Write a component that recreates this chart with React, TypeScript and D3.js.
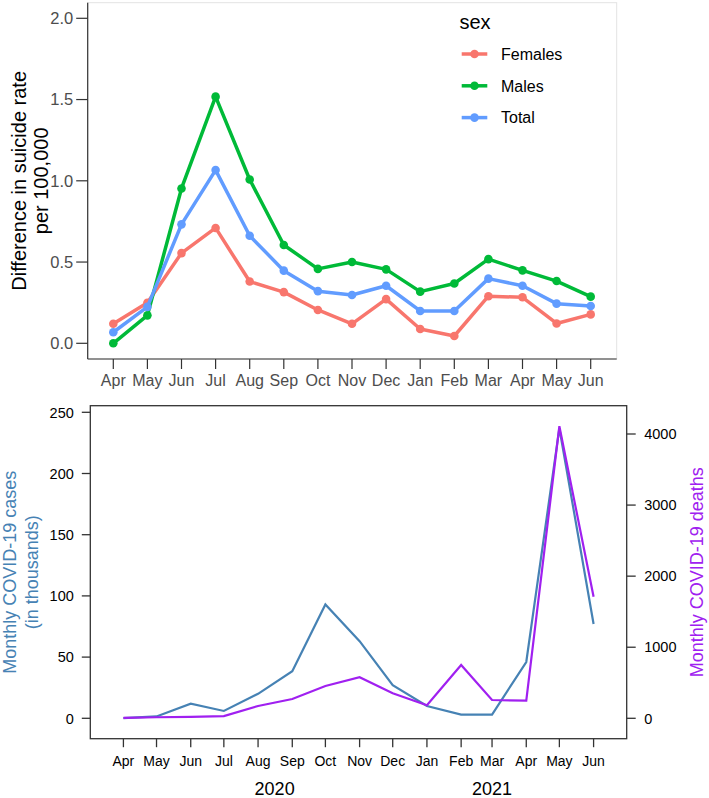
import * as d3 from 'd3'

// top panel: difference in suicide rate per 100,000, Apr 2020 – Jun 2021
const months = ['Apr', 'May', 'Jun', 'Jul', 'Aug', 'Sep', 'Oct', 'Nov', 'Dec', 'Jan', 'Feb', 'Mar', 'Apr', 'May', 'Jun']
const females = [0.12, 0.25, 0.555, 0.71, 0.38, 0.315, 0.205, 0.12, 0.272, 0.088, 0.045, 0.29, 0.283, 0.122, 0.178]
const males = [0.0, 0.172, 0.953, 1.518, 1.008, 0.605, 0.458, 0.5, 0.455, 0.318, 0.368, 0.518, 0.449, 0.383, 0.287]
const total = [0.068, 0.224, 0.732, 1.066, 0.662, 0.447, 0.321, 0.297, 0.354, 0.199, 0.199, 0.398, 0.354, 0.244, 0.23]
const rateTicks = [0, 0.5, 1.0, 1.5, 2.0]

// bottom panel: monthly COVID-19 cases (thousands) and deaths
const covidDates = ['2020-04-01', '2020-05-01', '2020-06-01', '2020-07-01', '2020-08-01', '2020-09-01', '2020-10-01',
  '2020-11-01', '2020-12-01', '2021-01-01', '2021-02-01', '2021-03-01', '2021-04-01', '2021-05-01', '2021-06-01']
const cases = [0.2, 1.5, 12, 6, 20, 38.5, 93, 63, 27, 10, 3, 3, 46, 237, 77]
const deaths = [5, 15, 20, 30, 173, 271, 454, 577, 352, 183, 750, 257, 248, 4111, 1710]
const caseTicks = [0, 50, 100, 150, 200, 250]
const deathTicks = [0, 1000, 2000, 3000, 4000]
const years = [{ label: '2020', date: '2020-08-16' }, { label: '2021', date: '2021-03-01' }]

const series = [
  { name: 'Females', values: females, color: '#F8766D' },
  { name: 'Males', values: males, color: '#00BA38' },
  { name: 'Total', values: total, color: '#619CFF' },
]

const FONT = '"Liberation Sans", Arial, sans-serif'

const TopPanel = () => {
  const left = 87.7, right = 616.7, top = 2.7, bottom = 359
  const x = d3.scaleLinear().domain([0, months.length - 1]).range([113.3, 590.7])
  const y = d3.scaleLinear().domain([0, 2]).range([343.3, 18.3])
  const line = d3.line<number>().x((_, i) => x(i)).y(d => y(d))

  return (
    <g fontFamily={FONT}>
      {/* panel border */}
      <rect x={left} y={top} width={right - left} height={bottom - top} fill='none' stroke='#e3e3e3' strokeWidth={1} />
      <line x1={left} x2={left} y1={top} y2={bottom} stroke='#333' strokeWidth={1.2} />
      <line x1={left} x2={right} y1={bottom} y2={bottom} stroke='#333' strokeWidth={1.2} />

      {rateTicks.map(t => (
        <g key={t}>
          <line x1={left - 11.5} x2={left} y1={y(t)} y2={y(t)} stroke='#333' strokeWidth={1.2} />
          <text x={left - 14.5} y={y(t)} dy='0.36em' textAnchor='end' fontSize={16.5} fill='#4d4d4d'>
            {t.toFixed(1)}
          </text>
        </g>
      ))}

      {months.map((m, i) => (
        <g key={i}>
          <line x1={x(i)} x2={x(i)} y1={bottom} y2={bottom + 10} stroke='#333' strokeWidth={1.2} />
          <text x={x(i)} y={bottom + 21} dy='0.36em' textAnchor='middle' fontSize={16} fill='#4d4d4d'>{m}</text>
        </g>
      ))}

      <text transform={`translate(18.5,${(top + bottom) / 2}) rotate(-90)`} textAnchor='middle' dy='0.36em' fontSize={20} fill='#000'>
        Difference in suicide rate
      </text>
      <text transform={`translate(40.5,${(top + bottom) / 2}) rotate(-90)`} textAnchor='middle' dy='0.36em' fontSize={20} fill='#000'>
        per 100,000
      </text>

      {series.map(s => (
        <g key={s.name}>
          <path d={line(s.values) ?? ''} fill='none' stroke={s.color} strokeWidth={3.5} strokeLinejoin='round' />
          {s.values.map((v, i) => (
            <circle key={i} cx={x(i)} cy={y(v)} r={4.3} fill={s.color} />
          ))}
        </g>
      ))}

      {/* legend */}
      <text x={459.5} y={22} dy='0.36em' fontSize={20} fill='#000'>sex</text>
      {series.map((s, i) => {
        const ly = 54 + i * 31.8
        return (
          <g key={s.name}>
            <line x1={461.7} x2={487.3} y1={ly} y2={ly} stroke={s.color} strokeWidth={3.5} />
            <circle cx={474.5} cy={ly} r={4.3} fill={s.color} />
            <text x={501} y={ly} dy='0.36em' fontSize={16} fill='#000'>{s.name}</text>
          </g>
        )
      })}
    </g>
  )
}

const BottomPanel = () => {
  const left = 90.3, right = 626.7, top = 405.7, bottom = 738.7
  const dates = covidDates.map(d => new Date(d + 'T00:00:00'))
  const x = d3.scaleTime()
    .domain([new Date('2020-03-02T00:00:00'), new Date('2021-07-01T00:00:00')])
    .range([left, right])
  const yc = d3.scaleLinear().domain([0, 250]).range([718.3, 412.3])
  const yd = d3.scaleLinear().domain([0, 4000]).range([718.3, 434])
  const caseLine = d3.line<number>().x((_, i) => x(dates[i])).y(d => yc(d))
  const deathLine = d3.line<number>().x((_, i) => x(dates[i])).y(d => yd(d))
  const midY = (top + bottom) / 2

  return (
    <g fontFamily={FONT}>
      <path d={caseLine(cases) ?? ''} fill='none' stroke='#4682B4' strokeWidth={2.2} />
      <path d={deathLine(deaths) ?? ''} fill='none' stroke='#A020F0' strokeWidth={2.2} />
      <rect x={left} y={top} width={right - left} height={bottom - top} fill='none' stroke='#333' strokeWidth={1.3} />

      {caseTicks.map(t => (
        <g key={t}>
          <line x1={left - 8.5} x2={left} y1={yc(t)} y2={yc(t)} stroke='#333' strokeWidth={1.3} />
          <text x={left - 16.5} y={yc(t)} dy='0.36em' textAnchor='end' fontSize={14.5} fill='#000'>{t}</text>
        </g>
      ))}
      {deathTicks.map(t => (
        <g key={t}>
          <line x1={right} x2={right + 9} y1={yd(t)} y2={yd(t)} stroke='#333' strokeWidth={1.3} />
          <text x={right + 17.5} y={yd(t)} dy='0.36em' textAnchor='start' fontSize={14.5} fill='#000'>{t}</text>
        </g>
      ))}
      {dates.map((d, i) => (
        <g key={i}>
          <line x1={x(d)} x2={x(d)} y1={bottom} y2={bottom + 8.5} stroke='#333' strokeWidth={1.3} />
          <text x={x(d)} y={761} dy='0.36em' textAnchor='middle' fontSize={14} fill='#000'>{months[i]}</text>
        </g>
      ))}
      {years.map(yr => (
        <text key={yr.label} x={x(new Date(yr.date + 'T00:00:00'))} y={789} dy='0.36em' textAnchor='middle' fontSize={18} fill='#000'>
          {yr.label}
        </text>
      ))}

      <text transform={`translate(10,${midY}) rotate(-90)`} textAnchor='middle' dy='0.36em' fontSize={18} fill='#4682B4'>
        Monthly COVID-19 cases
      </text>
      <text transform={`translate(31.7,${midY}) rotate(-90)`} textAnchor='middle' dy='0.36em' fontSize={18} fill='#4682B4'>
        (in thousands)
      </text>
      <text transform={`translate(696.7,${midY}) rotate(-90)`} textAnchor='middle' dy='0.36em' fontSize={18} fill='#A020F0'>
        Monthly COVID-19 deaths
      </text>
    </g>
  )
}

const App = () => {
  return (
    <svg width={709} height={798} style={{ position: 'absolute', left: 0, top: 0, background: '#fff' }}>
      <rect width={709} height={798} fill='#fff' />
      <TopPanel />
      <BottomPanel />
    </svg>
  )
}

export default App
